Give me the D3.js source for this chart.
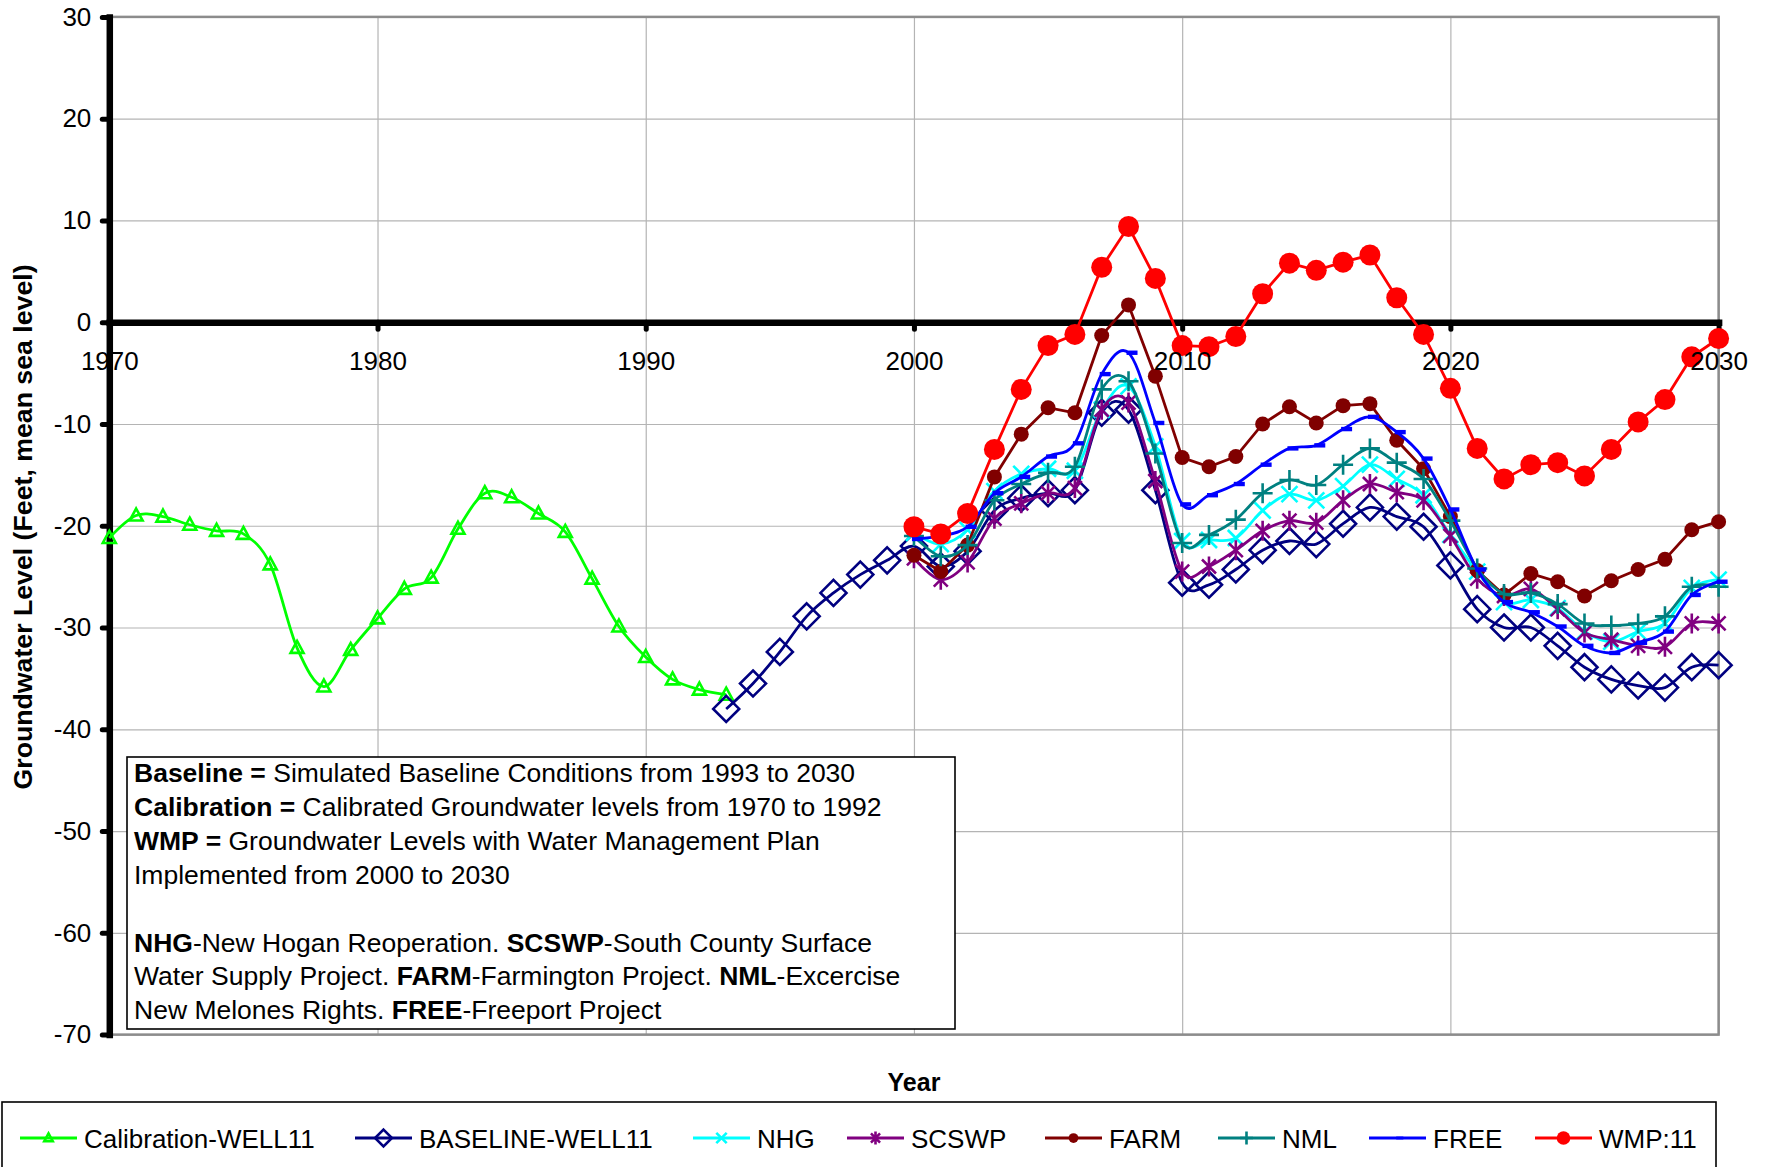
<!DOCTYPE html>
<html>
<head>
<meta charset="utf-8">
<script src="https://cdn.jsdelivr.net/npm/d3@7"></script>
<style>
  body { margin: 0; background: #fff; }
  svg { display: block; font-family: "Liberation Sans", Arial, sans-serif; }
</style>
</head>
<body>
<script>
'use strict';

// ---- data ----
const calibYears = d3.range(1970, 1994);
const calibration = [-21.2, -19.0, -19.1, -19.9, -20.5, -20.8, -23.8, -32.0, -35.8, -32.2,
  -29.1, -26.2, -25.1, -20.3, -16.8, -17.2, -18.8, -20.6, -25.2, -29.9, -32.9, -35.1, -36.1, -36.6];

const baseYears = d3.range(1993, 2031);
const baseline = [-38.0, -35.5, -32.4, -28.9, -26.6, -24.8, -23.4, -22.0, -24.0, -22.5,
  -18.5, -17.3, -16.8, -16.5, -8.9, -8.6, -16.5, -25.6, -25.8, -24.3,
  -22.4, -21.5, -21.8, -19.8, -18.2, -19.1, -20.1, -23.9, -28.2, -30.0,
  -30.0, -31.8, -33.9, -35.1, -35.7, -35.9, -33.9, -33.7];

const planYears = d3.range(2000, 2031);
const nhg = [-20.7, -21.8, -20.4, -16.6, -14.9, -14.4, -14.6, -8.6, -6.3, -12.2,
  -21.5, -21.4, -21.2, -18.5, -16.9, -17.5, -16.1, -14.0, -15.4, -17.0,
  -20.9, -24.5, -27.5, -27.3, -28.1, -30.4, -31.4, -30.4, -29.6, -26.1, -25.3];
const scswp = [-23.2, -25.3, -23.6, -19.3, -17.8, -16.8, -16.3, -8.6, -7.9, -15.6,
  -24.5, -24.0, -22.4, -20.5, -19.5, -19.7, -17.5, -15.9, -16.7, -17.5,
  -21.0, -25.2, -26.9, -26.2, -28.2, -30.5, -31.2, -31.8, -31.9, -29.6, -29.6];
const farm = [-22.9, -24.5, -21.9, -15.2, -11.0, -8.4, -8.9, -1.3, 1.7, -5.3,
  -13.3, -14.2, -13.2, -10.0, -8.3, -9.9, -8.2, -8.0, -11.6, -14.4,
  -19.1, -24.4, -26.8, -24.7, -25.5, -26.9, -25.4, -24.3, -23.3, -20.4, -19.6];
const nml = [-21.0, -23.0, -21.9, -17.5, -15.9, -14.8, -14.2, -6.6, -5.8, -12.9,
  -21.7, -20.9, -19.4, -16.8, -15.5, -16.0, -14.0, -12.4, -13.8, -15.4,
  -19.5, -24.2, -26.7, -26.6, -27.7, -29.6, -29.8, -29.6, -28.9, -26.0, -26.0];
const free = [-21.3, -21.0, -20.1, -16.8, -15.2, -13.2, -11.9, -5.1, -3.0, -9.9,
  -17.9, -17.0, -15.9, -14.0, -12.4, -12.1, -10.5, -9.3, -10.8, -13.4,
  -18.4, -24.3, -27.5, -28.5, -29.9, -31.8, -32.5, -31.5, -30.4, -26.8, -25.5];
const wmp = [-20.1, -20.8, -18.8, -12.5, -6.6, -2.3, -1.2, 5.4, 9.4, 4.3,
  -2.3, -2.4, -1.4, 2.8, 5.8, 5.1, 5.9, 6.6, 2.4, -1.2,
  -6.5, -12.4, -15.4, -14.0, -13.8, -15.1, -12.5, -9.8, -7.6, -3.4, -1.6];

const xTicks = [1970, 1980, 1990, 2000, 2010, 2020, 2030];
const yTicks = [30, 20, 10, 0, -10, -20, -30, -40, -50, -60, -70];

// series in drawing order (last on top)
const series = [
  { name: "Calibration-WELL11", years: calibYears, values: calibration, color: "#00FF00", marker: "triangle", smooth: true },
  { name: "BASELINE-WELL11", years: baseYears, values: baseline, color: "#000080", marker: "diamond", smooth: true },
  { name: "NHG", years: planYears, values: nhg, color: "#00FFFF", marker: "x", smooth: true },
  { name: "SCSWP", years: planYears, values: scswp, color: "#800080", marker: "star", smooth: true },
  { name: "FARM", years: planYears, values: farm, color: "#800000", marker: "dot", smooth: false },
  { name: "NML", years: planYears, values: nml, color: "#008080", marker: "plus", smooth: true },
  { name: "FREE", years: planYears, values: free, color: "#0000FF", marker: "dash", smooth: true },
  { name: "WMP:11", years: planYears, values: wmp, color: "#FF0000", marker: "bigdot", smooth: false }
];

const W = 1767, H = 1167;
const svg = d3.select('body').append('svg').attr('width', W).attr('height', H);

const x = d3.scaleLinear().domain([1970, 2030]).range([109.3, 1718.6]);
const y = d3.scaleLinear().domain([30, -70]).range([16.9, 1034.6]);

// plain labels: no thousands comma, ascii minus
const plain = d => String(d);

// grid lines
svg.append('g')
  .attr('transform', 'translate(0,' + y(-70) + ')')
  .call(d3.axisBottom(x).tickValues(xTicks).tickSize(-(y(-70) - y(30))).tickFormat(''))
  .call(g => g.select('.domain').remove())
  .selectAll('line').attr('stroke', '#b4b4b4').attr('stroke-width', 1.2);
svg.append('g')
  .attr('transform', 'translate(' + x(1970) + ',0)')
  .call(d3.axisLeft(y).tickValues(yTicks).tickSize(-(x(2030) - x(1970))).tickFormat(''))
  .call(g => g.select('.domain').remove())
  .selectAll('line').attr('stroke', '#b4b4b4').attr('stroke-width', 1.2);

// plot area border
svg.append('rect')
  .attr('x', x(1970)).attr('y', y(30))
  .attr('width', x(2030) - x(1970)).attr('height', y(-70) - y(30))
  .attr('fill', 'none').attr('stroke', '#8c8c8c').attr('stroke-width', 2.5);

// thick black axes (lines and ticks only)
let yAxisLines = svg.append('g')
  .attr('transform', 'translate(' + x(1970) + ',0)')
  .call(d3.axisLeft(y).tickValues(yTicks).tickSize(7).tickSizeOuter(0).tickFormat(''));
let xAxisLines = svg.append('g')
  .attr('transform', 'translate(0,' + y(0) + ')')
  .call(d3.axisBottom(x).tickValues(xTicks).tickSize(7).tickSizeOuter(0).tickFormat(''));
[yAxisLines, xAxisLines].forEach(g => {
  g.select('.domain').attr('stroke', '#000').attr('stroke-width', 6.5).attr('stroke-linecap', 'square');
  g.selectAll('.tick line').attr('stroke', '#000').attr('stroke-width', 5).attr('stroke-linecap', 'round');
});

// marker shapes
function markerPath(type, s) {
  switch (type) {
    case 'triangle': return 'M0,' + (-7 * s) + 'L' + (6.5 * s) + ',' + (5 * s) + 'L' + (-6.5 * s) + ',' + (5 * s) + 'Z';
    case 'diamond': return 'M0,' + (-13 * s) + 'L' + (13 * s) + ',0L0,' + (13 * s) + 'L' + (-13 * s) + ',0Z';
    case 'x': return 'M' + (-8 * s) + ',' + (-8 * s) + 'L' + (8 * s) + ',' + (8 * s) + 'M' + (-8 * s) + ',' + (8 * s) + 'L' + (8 * s) + ',' + (-8 * s);
    case 'star': return 'M' + (-7 * s) + ',' + (-7 * s) + 'L' + (7 * s) + ',' + (7 * s) + 'M' + (-7 * s) + ',' + (7 * s) + 'L' + (7 * s) + ',' + (-7 * s) +
      'M0,' + (-10 * s) + 'L0,' + (10 * s);
    case 'plus': return 'M' + (-10 * s) + ',0L' + (10 * s) + ',0M0,' + (-10 * s) + 'L0,' + (10 * s);
    default: return '';
  }
}

function drawMarker(g, type, color, s) {
  if (type === 'dot' || type === 'bigdot') {
    g.append('circle').attr('r', (type === 'dot' ? 7.5 : 10.5) * s).attr('fill', color);
  } else if (type === 'dash') {
    g.append('rect').attr('x', -2 * s).attr('y', -2.2 * s).attr('width', 11 * s).attr('height', 4.4 * s).attr('fill', color);
  } else {
    g.append('path').attr('d', markerPath(type, s))
      .attr('fill', 'none').attr('stroke', color).attr('stroke-width', 2.6).attr('stroke-linejoin', 'miter');
  }
}

// series lines and markers
series.forEach(sr => {
  let pts = sr.years.map((yr, i) => [yr, sr.values[i]]);
  let line = d3.line()
    .x(d => x(d[0])).y(d => y(d[1]))
    .curve(sr.smooth ? d3.curveCardinal.tension(0) : d3.curveLinear);
  svg.append('path').datum(pts)
    .attr('d', line)
    .attr('fill', 'none').attr('stroke', sr.color).attr('stroke-width', 2.8);
  svg.append('g').selectAll('g')
    .data(pts).enter().append('g')
    .attr('transform', d => 'translate(' + x(d[0]) + ',' + y(d[1]) + ')')
    .each(function() { drawMarker(d3.select(this), sr.marker, sr.color, 1); });
});

// tick labels on top of the series
let yLabels = svg.append('g')
  .attr('transform', 'translate(' + x(1970) + ',0)')
  .call(d3.axisLeft(y).tickValues(yTicks).tickSize(7).tickPadding(11).tickFormat(plain));
let xLabels = svg.append('g')
  .attr('transform', 'translate(0,' + y(0) + ')')
  .call(d3.axisBottom(x).tickValues(xTicks).tickSize(7).tickPadding(22).tickFormat(plain));
[yLabels, xLabels].forEach(g => {
  g.select('.domain').remove();
  g.selectAll('.tick line').remove();
  g.selectAll('text').attr('fill', '#000').style('font-size', '26px').style('font-family', '"Liberation Sans", Arial, sans-serif');
});

// annotation text box
const noteLines = [
  [["Baseline = ", true], ["Simulated Baseline Conditions from 1993 to 2030", false]],
  [["Calibration = ", true], ["Calibrated Groundwater levels from 1970 to 1992", false]],
  [["WMP = ", true], ["Groundwater Levels with Water Management Plan", false]],
  [["Implemented from 2000 to 2030", false]],
  [],
  [["NHG", true], ["-New Hogan Reoperation. ", false], ["SCSWP", true], ["-South County Surface", false]],
  [["Water Supply Project. ", false], ["FARM", true], ["-Farmington Project. ", false], ["NML", true], ["-Excercise", false]],
  [["New Melones Rights. ", false], ["FREE", true], ["-Freeport Project", false]]
];
svg.append('rect')
  .attr('x', 127).attr('y', 757).attr('width', 828).attr('height', 272)
  .attr('fill', '#fff').attr('stroke', '#000').attr('stroke-width', 1.6);
noteLines.forEach((parts, i) => {
  let t = svg.append('text')
    .attr('x', 134).attr('y', 782 + i * 33.9)
    .style('font-size', '26.5px').attr('xml:space', 'preserve');
  parts.forEach(p => {
    t.append('tspan').text(p[0]).style('font-weight', p[1] ? 'bold' : 'normal');
  });
});

// axis titles
svg.append('text')
  .attr('transform', 'translate(32,527)rotate(-90)')
  .attr('text-anchor', 'middle')
  .style('font-size', '26.7px').style('font-weight', 'bold')
  .text('Groundwater Level (Feet, mean sea level)');

svg.append('text')
  .attr('x', 914).attr('y', 1091)
  .attr('text-anchor', 'middle')
  .style('font-size', '25px').style('font-weight', 'bold')
  .text('Year');

// legend
svg.append('rect')
  .attr('x', 2).attr('y', 1102).attr('width', 1714).attr('height', 100)
  .attr('fill', '#fff').attr('stroke', '#000').attr('stroke-width', 1.6);

const legendX = [20, 355, 693, 847, 1045, 1218, 1369, 1535];
const legendY = 1138;
series.forEach((sr, i) => {
  let g = svg.append('g').attr('transform', 'translate(' + legendX[i] + ',' + legendY + ')');
  g.append('line').attr('x1', 0).attr('x2', 57).attr('y1', 0).attr('y2', 0)
    .attr('stroke', sr.color).attr('stroke-width', 3);
  let m = g.append('g').attr('transform', 'translate(28.5,0)');
  drawMarker(m, sr.marker, sr.color, 0.65);
  g.append('text').attr('x', 64).attr('y', 9.5)
    .style('font-size', '26px')
    .text(sr.name);
});
</script>
</body>
</html>
